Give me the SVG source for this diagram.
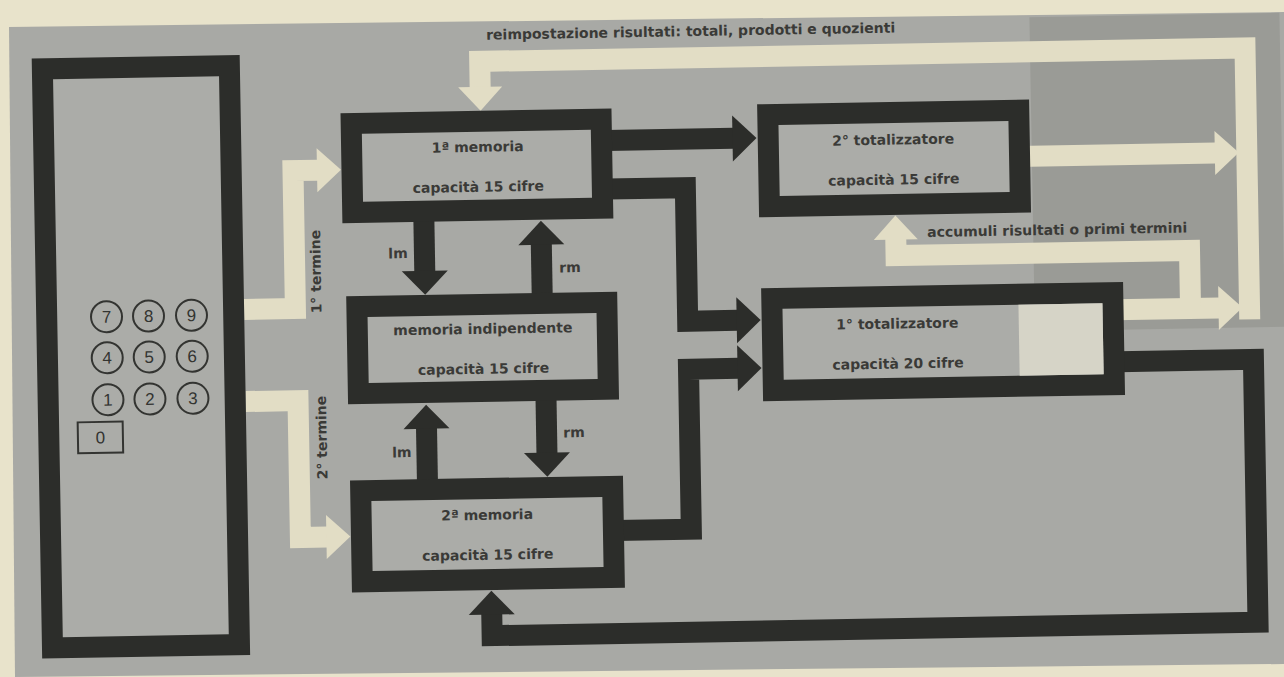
<svg xmlns="http://www.w3.org/2000/svg" width="1284" height="677" viewBox="0 0 1284 677">
<defs>
<style>
.paper{fill:#e8e3cb}
.panel{fill:#a8a9a5}
.shade{fill:#9a9b96}
.box{fill:#abaca8;stroke:#2c2d2a;stroke-width:21}
.dk{fill:none;stroke:#2c2d2a;stroke-width:21;stroke-linejoin:miter}
.lt{fill:none;stroke:#e2ddc5;stroke-width:21;stroke-linejoin:miter}
.key{fill:none;stroke:#333431;stroke-width:2}
.t{font-family:"DejaVu Sans",sans-serif;font-weight:bold;font-size:14px;fill:#3a3a37;text-anchor:middle}
.d{font-family:"Liberation Sans",sans-serif;font-size:17px;fill:#333431;text-anchor:middle}
</style>
<marker id="ah" viewBox="0 -23 24 46" refX="1" refY="0" markerWidth="24" markerHeight="46" markerUnits="userSpaceOnUse" orient="auto" overflow="visible">
<path d="M0,-23 L24,0 L0,23 Z" fill="#2c2d2a"/>
</marker>
<marker id="al" viewBox="0 -22 24 44" refX="1" refY="0" markerWidth="24" markerHeight="44" markerUnits="userSpaceOnUse" orient="auto" overflow="visible">
<path d="M0,-22 L24,0 L0,22 Z" fill="#e2ddc5"/>
</marker>
</defs>
<rect class="paper" x="0" y="0" width="1284" height="677"/>
<polygon class="panel" points="9,27 1284,12 1284,664 15,677"/>
<g transform="rotate(-1 642 340)">
<rect class="shade" x="1035" y="24" width="250" height="314"/>
<g id="connectors">
<path class="lt" d="M1250,330 V58.6 H484.6 V85" marker-end="url(#al)"/>
<path class="lt" d="M1020,163 H1219" marker-end="url(#al)"/>
<path class="lt" d="M1115,318 H1220" marker-end="url(#al)"/>
<path class="lt" d="M1191,320 V260 H897.5 V243" marker-end="url(#al)"/>
<path class="lt" d="M244.7,302.5 H296 V164.5 H321" marker-end="url(#al)"/>
<path class="lt" d="M244.7,394.6 H297 V531.5 H324" marker-end="url(#al)"/>
<path class="dk" d="M610,140 H737" marker-end="url(#ah)"/>
<path class="dk" d="M610,188.5 H688 V322 H738" marker-end="url(#ah)"/>
<path class="dk" d="M612,530 H688 V370 H738" marker-end="url(#ah)"/>
<path class="dk" d="M1118,370 H1253 V633 H487 V611" marker-end="url(#ah)"/>
<path class="dk" d="M426,213 V268" marker-end="url(#ah)"/>
<path class="dk" d="M543,296 V242" marker-end="url(#ah)"/>
<path class="dk" d="M425,480 V424" marker-end="url(#ah)"/>
<path class="dk" d="M545,394 V452" marker-end="url(#ah)"/>
<text class="t" x="696" y="37">reimpostazione risultati: totali, prodotti e quozienti</text>
<text class="t" x="1059" y="242">accumuli risultati o primi termini</text>
<text class="t" x="399.5" y="254">lm</text>
<text class="t" x="571.3" y="271">rm</text>
<text class="t" x="400" y="453">lm</text>
<text class="t" x="572.4" y="436">rm</text>
<text class="t" transform="translate(322 266) rotate(-90)">1° termine</text>
<text class="t" transform="translate(325 432) rotate(-90)">2° termine</text>
</g>
<g id="tastiera">
<rect class="box" x="47.2" y="58.5" width="187" height="579"/>
<circle class="key" cx="107" cy="307.4" r="15.5"/><text class="d" x="107" y="313.4">7</text>
<circle class="key" cx="149" cy="307.4" r="15.5"/><text class="d" x="149" y="313.4">8</text>
<circle class="key" cx="192" cy="307.4" r="15.5"/><text class="d" x="192" y="313.4">9</text>
<circle class="key" cx="107" cy="348.4" r="15.5"/><text class="d" x="107" y="354.4">4</text>
<circle class="key" cx="149" cy="348.4" r="15.5"/><text class="d" x="149" y="354.4">5</text>
<circle class="key" cx="192" cy="348.4" r="15.5"/><text class="d" x="192" y="354.4">6</text>
<circle class="key" cx="107" cy="390.4" r="15.5"/><text class="d" x="107" y="396.4">1</text>
<circle class="key" cx="149" cy="390.4" r="15.5"/><text class="d" x="149" y="396.4">2</text>
<circle class="key" cx="192" cy="390.4" r="15.5"/><text class="d" x="192" y="396.4">3</text>
<rect class="key" x="76.3" y="412.5" width="45" height="31"/><text class="d" x="98.8" y="434">0</text>
</g>
<g id="memoria1">
<rect class="box" x="355" y="118.5" width="250" height="89"/>
<text class="t" x="481" y="149">1ª memoria</text>
<text class="t" x="481" y="189">capacità 15 cifre</text>
</g>
<g id="memoria-indipendente">
<rect class="box" x="357.5" y="301.7" width="250" height="87"/>
<text class="t" x="483" y="331">memoria indipendente</text>
<text class="t" x="483" y="371">capacità 15 cifre</text>
</g>
<g id="memoria2">
<rect class="box" x="358.1" y="485.8" width="252" height="91"/>
<text class="t" x="484" y="517">2ª memoria</text>
<text class="t" x="484" y="557">capacità 15 cifre</text>
</g>
<g id="totalizzatore2">
<rect class="box" x="771.7" y="116.9" width="251" height="92"/>
<text class="t" x="896.6" y="149">2° totalizzatore</text>
<text class="t" x="896.6" y="189">capacità 15 cifre</text>
</g>
<g id="totalizzatore1">
<rect class="box" x="772.5" y="300.8" width="341" height="92"/>
<rect x="1019" y="311.3" width="84" height="71" fill="#d6d4c7"/>
<text class="t" x="897.5" y="333">1° totalizzatore</text>
<text class="t" x="897.5" y="373">capacità 20 cifre</text>
</g>
</g>
</svg>
